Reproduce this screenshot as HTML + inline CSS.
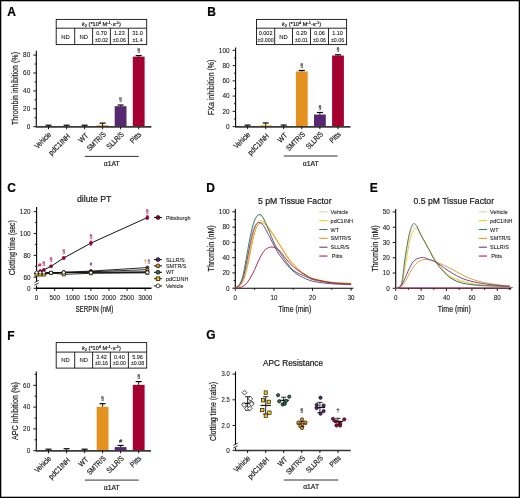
<!DOCTYPE html><html><head><meta charset="utf-8"><style>html,body{margin:0;padding:0;background:#fff;width:520px;height:498px;overflow:hidden}svg text{font-family:"Liberation Sans",sans-serif;stroke:currentColor;stroke-width:0.2px}</style></head><body><svg width="520" height="498" viewBox="0 0 520 498" style="display:block">
<rect x="0" y="0" width="520" height="498" fill="#fff"/>
<g style="will-change:transform">
<text x="7.3" y="15.6" font-size="12" fill="#000" color="#000" font-weight="bold">A</text>
<rect x="56.2" y="19.4" width="90.5" height="25.2" fill="none" stroke="#111" stroke-width="0.9"/>
<line x1="56.2" y1="28.2" x2="146.7" y2="28.2" stroke="#111" stroke-width="0.9"/>
<line x1="74.7" y1="28.2" x2="74.7" y2="44.6" stroke="#111" stroke-width="0.9"/>
<line x1="92.6" y1="28.2" x2="92.6" y2="44.6" stroke="#111" stroke-width="0.9"/>
<line x1="110.4" y1="28.2" x2="110.4" y2="44.6" stroke="#111" stroke-width="0.9"/>
<line x1="128.4" y1="28.2" x2="128.4" y2="44.6" stroke="#111" stroke-width="0.9"/>
<text x="101.45" y="26" font-size="5.6" fill="#1a1a1a" color="#1a1a1a" text-anchor="middle"><tspan font-style="italic">k</tspan><tspan font-size="4" dy="1">2</tspan><tspan dy="-1"> (*10</tspan><tspan font-size="4" dy="-2">4</tspan><tspan dy="2"> M</tspan><tspan font-size="4" dy="-2">-1</tspan><tspan dy="2">·s</tspan><tspan font-size="4" dy="-2">-1</tspan><tspan dy="2">)</tspan></text>
<text x="65.45" y="38.5" font-size="5.9" fill="#1a1a1a" color="#1a1a1a" text-anchor="middle" style="stroke-width:0.1px">ND</text>
<text x="83.65" y="38.5" font-size="5.9" fill="#1a1a1a" color="#1a1a1a" text-anchor="middle" style="stroke-width:0.1px">ND</text>
<text x="101.5" y="35" font-size="5.6" fill="#1a1a1a" color="#1a1a1a" text-anchor="middle" textLength="10.68" lengthAdjust="spacingAndGlyphs" style="stroke-width:0.1px">0.70</text>
<text x="101.5" y="41.5" font-size="5.6" fill="#1a1a1a" color="#1a1a1a" text-anchor="middle" textLength="13.13" lengthAdjust="spacingAndGlyphs" style="stroke-width:0.1px">±0.02</text>
<text x="119.4" y="35" font-size="5.6" fill="#1a1a1a" color="#1a1a1a" text-anchor="middle" textLength="10.68" lengthAdjust="spacingAndGlyphs" style="stroke-width:0.1px">1.23</text>
<text x="119.4" y="41.5" font-size="5.6" fill="#1a1a1a" color="#1a1a1a" text-anchor="middle" textLength="13.13" lengthAdjust="spacingAndGlyphs" style="stroke-width:0.1px">±0.06</text>
<text x="137.55" y="35" font-size="5.6" fill="#1a1a1a" color="#1a1a1a" text-anchor="middle" textLength="10.68" lengthAdjust="spacingAndGlyphs" style="stroke-width:0.1px">31.0</text>
<text x="137.55" y="41.5" font-size="5.6" fill="#1a1a1a" color="#1a1a1a" text-anchor="middle" textLength="10.21" lengthAdjust="spacingAndGlyphs" style="stroke-width:0.1px">±1.4</text>
<line x1="36.3" y1="50.7" x2="36.3" y2="127.3" stroke="#000" stroke-width="1.1"/>
<line x1="33.3" y1="126.7" x2="36.3" y2="126.7" stroke="#000" stroke-width="0.9"/>
<text x="30.2" y="129" font-size="6.4" fill="#1a1a1a" color="#1a1a1a" text-anchor="end" style="stroke-width:0.1px">0</text>
<line x1="33.3" y1="108.8" x2="36.3" y2="108.8" stroke="#000" stroke-width="0.9"/>
<text x="30.2" y="111.1" font-size="6.4" fill="#1a1a1a" color="#1a1a1a" text-anchor="end" style="stroke-width:0.1px">20</text>
<line x1="33.3" y1="90.9" x2="36.3" y2="90.9" stroke="#000" stroke-width="0.9"/>
<text x="30.2" y="93.2" font-size="6.4" fill="#1a1a1a" color="#1a1a1a" text-anchor="end" style="stroke-width:0.1px">40</text>
<line x1="33.3" y1="73" x2="36.3" y2="73" stroke="#000" stroke-width="0.9"/>
<text x="30.2" y="75.3" font-size="6.4" fill="#1a1a1a" color="#1a1a1a" text-anchor="end" style="stroke-width:0.1px">60</text>
<line x1="33.3" y1="55.1" x2="36.3" y2="55.1" stroke="#000" stroke-width="0.9"/>
<text x="30.2" y="57.4" font-size="6.4" fill="#1a1a1a" color="#1a1a1a" text-anchor="end" style="stroke-width:0.1px">80</text>
<line x1="34.6" y1="117.75" x2="36.3" y2="117.75" stroke="#000" stroke-width="0.9"/>
<line x1="34.6" y1="99.85" x2="36.3" y2="99.85" stroke="#000" stroke-width="0.9"/>
<line x1="34.6" y1="81.95" x2="36.3" y2="81.95" stroke="#000" stroke-width="0.9"/>
<line x1="34.6" y1="64.05" x2="36.3" y2="64.05" stroke="#000" stroke-width="0.9"/>
<line x1="48.5" y1="125.2" x2="48.5" y2="126.7" stroke="#000" stroke-width="0.9"/>
<line x1="45.5" y1="125.2" x2="51.5" y2="125.2" stroke="#000" stroke-width="1.2"/>
<line x1="66.6" y1="125.2" x2="66.6" y2="126.7" stroke="#000" stroke-width="0.9"/>
<line x1="63.6" y1="125.2" x2="69.6" y2="125.2" stroke="#000" stroke-width="1.2"/>
<line x1="84.6" y1="125.2" x2="84.6" y2="126.7" stroke="#000" stroke-width="0.9"/>
<line x1="81.6" y1="125.2" x2="87.6" y2="125.2" stroke="#000" stroke-width="1.2"/>
<rect x="96.7" y="125.3" width="11.8" height="1.4" fill="#e3921f"/>
<line x1="102.6" y1="123.12" x2="102.6" y2="126.34" stroke="#000" stroke-width="0.9"/>
<line x1="99.6" y1="123.12" x2="105.6" y2="123.12" stroke="#000" stroke-width="1.2"/>
<rect x="114.7" y="106.2" width="11.8" height="20.5" fill="#55286f"/>
<line x1="120.6" y1="105.04" x2="120.6" y2="106.2" stroke="#000" stroke-width="0.9"/>
<line x1="117.6" y1="105.04" x2="123.6" y2="105.04" stroke="#000" stroke-width="1.2"/>
<text x="120.6" y="101.24" font-size="7" fill="#1a1a1a" color="#1a1a1a" text-anchor="middle" style="font-family:'Liberation Serif',serif;stroke-width:0.12px">§</text>
<rect x="132.8" y="56.62" width="11.8" height="70.08" fill="#a50032"/>
<line x1="138.7" y1="55.55" x2="138.7" y2="56.62" stroke="#000" stroke-width="0.9"/>
<line x1="135.7" y1="55.55" x2="141.7" y2="55.55" stroke="#000" stroke-width="1.2"/>
<text x="138.7" y="51.75" font-size="7" fill="#1a1a1a" color="#1a1a1a" text-anchor="middle" style="font-family:'Liberation Serif',serif;stroke-width:0.12px">§</text>
<line x1="35.8" y1="126.85" x2="151.4" y2="126.85" stroke="#3a3a3a" stroke-width="1.75"/>
<line x1="48.5" y1="126.7" x2="48.5" y2="129.3" stroke="#000" stroke-width="0.9"/>
<line x1="66.6" y1="126.7" x2="66.6" y2="129.3" stroke="#000" stroke-width="0.9"/>
<line x1="84.6" y1="126.7" x2="84.6" y2="129.3" stroke="#000" stroke-width="0.9"/>
<line x1="102.6" y1="126.7" x2="102.6" y2="129.3" stroke="#000" stroke-width="0.9"/>
<line x1="120.6" y1="126.7" x2="120.6" y2="129.3" stroke="#000" stroke-width="0.9"/>
<line x1="138.7" y1="126.7" x2="138.7" y2="129.3" stroke="#000" stroke-width="0.9"/>
<text x="51.7" y="135.1" font-size="7.6" fill="#1a1a1a" color="#1a1a1a" text-anchor="end" transform="rotate(-45 51.7 135.1)" textLength="19.85" lengthAdjust="spacingAndGlyphs">Vehicle</text>
<text x="70.6" y="136.8" font-size="7.6" fill="#1a1a1a" color="#1a1a1a" text-anchor="end" transform="rotate(-45 70.6 136.8)" textLength="26.88" lengthAdjust="spacingAndGlyphs">pdC1INH</text>
<text x="88.8" y="136.1" font-size="7.6" fill="#1a1a1a" color="#1a1a1a" text-anchor="end" transform="rotate(-45 88.8 136.1)" textLength="10.16" lengthAdjust="spacingAndGlyphs">WT</text>
<text x="106.4" y="134.9" font-size="7.6" fill="#1a1a1a" color="#1a1a1a" text-anchor="end" transform="rotate(-45 106.4 134.9)" textLength="23.26" lengthAdjust="spacingAndGlyphs">SMTR/S</text>
<text x="124.4" y="134.8" font-size="7.6" fill="#1a1a1a" color="#1a1a1a" text-anchor="end" transform="rotate(-45 124.4 134.8)" textLength="20.95" lengthAdjust="spacingAndGlyphs">SLLR/S</text>
<text x="141.9" y="134.9" font-size="7.6" fill="#1a1a1a" color="#1a1a1a" text-anchor="end" transform="rotate(-45 141.9 134.9)" textLength="12.42" lengthAdjust="spacingAndGlyphs">Pitts</text>
<line x1="84.8" y1="156.4" x2="138.8" y2="156.4" stroke="#333" stroke-width="1"/>
<text x="111.8" y="165.6" font-size="7.4" fill="#1a1a1a" color="#1a1a1a" text-anchor="middle" textLength="15.92" lengthAdjust="spacingAndGlyphs">α1AT</text>
<text x="18" y="88.5" font-size="9" fill="#1a1a1a" color="#1a1a1a" text-anchor="middle" transform="rotate(-90 18 88.5)" textLength="73" lengthAdjust="spacingAndGlyphs">Thrombin inhibition (%)</text>
<text x="207.3" y="15.6" font-size="12" fill="#000" color="#000" font-weight="bold">B</text>
<rect x="256.5" y="19.4" width="90.1" height="25.2" fill="none" stroke="#111" stroke-width="0.9"/>
<line x1="256.5" y1="28.2" x2="346.6" y2="28.2" stroke="#111" stroke-width="0.9"/>
<line x1="274.7" y1="28.2" x2="274.7" y2="44.6" stroke="#111" stroke-width="0.9"/>
<line x1="292.5" y1="28.2" x2="292.5" y2="44.6" stroke="#111" stroke-width="0.9"/>
<line x1="310.5" y1="28.2" x2="310.5" y2="44.6" stroke="#111" stroke-width="0.9"/>
<line x1="328.5" y1="28.2" x2="328.5" y2="44.6" stroke="#111" stroke-width="0.9"/>
<text x="301.55" y="26" font-size="5.6" fill="#1a1a1a" color="#1a1a1a" text-anchor="middle"><tspan font-style="italic">k</tspan><tspan font-size="4" dy="1">2</tspan><tspan dy="-1"> (*10</tspan><tspan font-size="4" dy="-2">4</tspan><tspan dy="2"> M</tspan><tspan font-size="4" dy="-2">-1</tspan><tspan dy="2">·s</tspan><tspan font-size="4" dy="-2">-1</tspan><tspan dy="2">)</tspan></text>
<text x="265.6" y="35" font-size="5.6" fill="#1a1a1a" color="#1a1a1a" text-anchor="middle" textLength="13.73" lengthAdjust="spacingAndGlyphs" style="stroke-width:0.1px">0.002</text>
<text x="265.6" y="41.5" font-size="5.6" fill="#1a1a1a" color="#1a1a1a" text-anchor="middle" textLength="16.06" lengthAdjust="spacingAndGlyphs" style="stroke-width:0.1px">±0.000</text>
<text x="283.6" y="38.5" font-size="5.9" fill="#1a1a1a" color="#1a1a1a" text-anchor="middle" style="stroke-width:0.1px">ND</text>
<text x="301.5" y="35" font-size="5.6" fill="#1a1a1a" color="#1a1a1a" text-anchor="middle" textLength="10.68" lengthAdjust="spacingAndGlyphs" style="stroke-width:0.1px">0.29</text>
<text x="301.5" y="41.5" font-size="5.6" fill="#1a1a1a" color="#1a1a1a" text-anchor="middle" textLength="13.13" lengthAdjust="spacingAndGlyphs" style="stroke-width:0.1px">±0.01</text>
<text x="319.5" y="35" font-size="5.6" fill="#1a1a1a" color="#1a1a1a" text-anchor="middle" textLength="10.68" lengthAdjust="spacingAndGlyphs" style="stroke-width:0.1px">0.06</text>
<text x="319.5" y="41.5" font-size="5.6" fill="#1a1a1a" color="#1a1a1a" text-anchor="middle" textLength="13.13" lengthAdjust="spacingAndGlyphs" style="stroke-width:0.1px">±0.06</text>
<text x="337.55" y="35" font-size="5.6" fill="#1a1a1a" color="#1a1a1a" text-anchor="middle" textLength="10.68" lengthAdjust="spacingAndGlyphs" style="stroke-width:0.1px">1.10</text>
<text x="337.55" y="41.5" font-size="5.6" fill="#1a1a1a" color="#1a1a1a" text-anchor="middle" textLength="13.13" lengthAdjust="spacingAndGlyphs" style="stroke-width:0.1px">±0.06</text>
<line x1="235.6" y1="47.6" x2="235.6" y2="127.2" stroke="#000" stroke-width="1.1"/>
<line x1="232.6" y1="126.6" x2="235.6" y2="126.6" stroke="#000" stroke-width="0.9"/>
<text x="229.5" y="128.9" font-size="6.4" fill="#1a1a1a" color="#1a1a1a" text-anchor="end" style="stroke-width:0.1px">0</text>
<line x1="232.6" y1="111.35" x2="235.6" y2="111.35" stroke="#000" stroke-width="0.9"/>
<text x="229.5" y="113.65" font-size="6.4" fill="#1a1a1a" color="#1a1a1a" text-anchor="end" style="stroke-width:0.1px">20</text>
<line x1="232.6" y1="96.1" x2="235.6" y2="96.1" stroke="#000" stroke-width="0.9"/>
<text x="229.5" y="98.4" font-size="6.4" fill="#1a1a1a" color="#1a1a1a" text-anchor="end" style="stroke-width:0.1px">40</text>
<line x1="232.6" y1="80.85" x2="235.6" y2="80.85" stroke="#000" stroke-width="0.9"/>
<text x="229.5" y="83.15" font-size="6.4" fill="#1a1a1a" color="#1a1a1a" text-anchor="end" style="stroke-width:0.1px">60</text>
<line x1="232.6" y1="65.6" x2="235.6" y2="65.6" stroke="#000" stroke-width="0.9"/>
<text x="229.5" y="67.9" font-size="6.4" fill="#1a1a1a" color="#1a1a1a" text-anchor="end" style="stroke-width:0.1px">80</text>
<line x1="232.6" y1="50.35" x2="235.6" y2="50.35" stroke="#000" stroke-width="0.9"/>
<text x="229.5" y="52.65" font-size="6.4" fill="#1a1a1a" color="#1a1a1a" text-anchor="end" style="stroke-width:0.1px">100</text>
<line x1="233.9" y1="118.97" x2="235.6" y2="118.97" stroke="#000" stroke-width="0.9"/>
<line x1="233.9" y1="103.72" x2="235.6" y2="103.72" stroke="#000" stroke-width="0.9"/>
<line x1="233.9" y1="88.47" x2="235.6" y2="88.47" stroke="#000" stroke-width="0.9"/>
<line x1="233.9" y1="73.22" x2="235.6" y2="73.22" stroke="#000" stroke-width="0.9"/>
<line x1="233.9" y1="57.97" x2="235.6" y2="57.97" stroke="#000" stroke-width="0.9"/>
<line x1="247.6" y1="125.1" x2="247.6" y2="126.6" stroke="#000" stroke-width="0.9"/>
<line x1="244.6" y1="125.1" x2="250.6" y2="125.1" stroke="#000" stroke-width="1.2"/>
<rect x="259.8" y="125.2" width="11.8" height="1.4" fill="#f5c518"/>
<line x1="265.7" y1="122.94" x2="265.7" y2="125.68" stroke="#000" stroke-width="0.9"/>
<line x1="262.7" y1="122.94" x2="268.7" y2="122.94" stroke="#000" stroke-width="1.2"/>
<line x1="283.7" y1="125.07" x2="283.7" y2="126.6" stroke="#000" stroke-width="0.9"/>
<line x1="280.7" y1="125.07" x2="286.7" y2="125.07" stroke="#000" stroke-width="1.2"/>
<rect x="295.9" y="71.47" width="11.8" height="55.13" fill="#e3921f"/>
<line x1="301.8" y1="70.48" x2="301.8" y2="71.47" stroke="#000" stroke-width="0.9"/>
<line x1="298.8" y1="70.48" x2="304.8" y2="70.48" stroke="#000" stroke-width="1.2"/>
<text x="301.8" y="66.68" font-size="7" fill="#1a1a1a" color="#1a1a1a" text-anchor="middle" style="font-family:'Liberation Serif',serif;stroke-width:0.12px">§</text>
<rect x="314" y="114.55" width="11.8" height="12.05" fill="#55286f"/>
<line x1="319.9" y1="112.49" x2="319.9" y2="114.55" stroke="#000" stroke-width="0.9"/>
<line x1="316.9" y1="112.49" x2="322.9" y2="112.49" stroke="#000" stroke-width="1.2"/>
<text x="319.9" y="108.69" font-size="7" fill="#1a1a1a" color="#1a1a1a" text-anchor="middle" style="font-family:'Liberation Serif',serif;stroke-width:0.12px">§</text>
<rect x="332.1" y="55.53" width="11.8" height="71.06" fill="#a50032"/>
<line x1="338" y1="54.77" x2="338" y2="55.53" stroke="#000" stroke-width="0.9"/>
<line x1="335" y1="54.77" x2="341" y2="54.77" stroke="#000" stroke-width="1.2"/>
<text x="338" y="50.97" font-size="7" fill="#1a1a1a" color="#1a1a1a" text-anchor="middle" style="font-family:'Liberation Serif',serif;stroke-width:0.12px">§</text>
<line x1="235.1" y1="126.75" x2="350.5" y2="126.75" stroke="#3a3a3a" stroke-width="1.75"/>
<line x1="247.6" y1="126.6" x2="247.6" y2="129.2" stroke="#000" stroke-width="0.9"/>
<line x1="265.7" y1="126.6" x2="265.7" y2="129.2" stroke="#000" stroke-width="0.9"/>
<line x1="283.7" y1="126.6" x2="283.7" y2="129.2" stroke="#000" stroke-width="0.9"/>
<line x1="301.8" y1="126.6" x2="301.8" y2="129.2" stroke="#000" stroke-width="0.9"/>
<line x1="319.9" y1="126.6" x2="319.9" y2="129.2" stroke="#000" stroke-width="0.9"/>
<line x1="338" y1="126.6" x2="338" y2="129.2" stroke="#000" stroke-width="0.9"/>
<text x="250.8" y="135" font-size="7.6" fill="#1a1a1a" color="#1a1a1a" text-anchor="end" transform="rotate(-45 250.8 135)" textLength="19.85" lengthAdjust="spacingAndGlyphs">Vehicle</text>
<text x="269.7" y="136.7" font-size="7.6" fill="#1a1a1a" color="#1a1a1a" text-anchor="end" transform="rotate(-45 269.7 136.7)" textLength="26.88" lengthAdjust="spacingAndGlyphs">pdC1INH</text>
<text x="287.9" y="136" font-size="7.6" fill="#1a1a1a" color="#1a1a1a" text-anchor="end" transform="rotate(-45 287.9 136)" textLength="10.16" lengthAdjust="spacingAndGlyphs">WT</text>
<text x="305.6" y="134.8" font-size="7.6" fill="#1a1a1a" color="#1a1a1a" text-anchor="end" transform="rotate(-45 305.6 134.8)" textLength="23.26" lengthAdjust="spacingAndGlyphs">SMTR/S</text>
<text x="323.7" y="134.7" font-size="7.6" fill="#1a1a1a" color="#1a1a1a" text-anchor="end" transform="rotate(-45 323.7 134.7)" textLength="20.95" lengthAdjust="spacingAndGlyphs">SLLR/S</text>
<text x="341.2" y="134.8" font-size="7.6" fill="#1a1a1a" color="#1a1a1a" text-anchor="end" transform="rotate(-45 341.2 134.8)" textLength="12.42" lengthAdjust="spacingAndGlyphs">Pitts</text>
<line x1="283.8" y1="156" x2="337.6" y2="156" stroke="#333" stroke-width="1"/>
<text x="310.7" y="165.6" font-size="7.4" fill="#1a1a1a" color="#1a1a1a" text-anchor="middle" textLength="15.92" lengthAdjust="spacingAndGlyphs">α1AT</text>
<text x="214" y="87.3" font-size="9" fill="#1a1a1a" color="#1a1a1a" text-anchor="middle" transform="rotate(-90 214 87.3)" textLength="55.5" lengthAdjust="spacingAndGlyphs">FXa inhibition (%)</text>
<text x="7.3" y="339.6" font-size="12" fill="#000" color="#000" font-weight="bold">F</text>
<rect x="56.2" y="342.6" width="90.5" height="25.5" fill="none" stroke="#111" stroke-width="0.9"/>
<line x1="56.2" y1="352.1" x2="146.7" y2="352.1" stroke="#111" stroke-width="0.9"/>
<line x1="74.7" y1="352.1" x2="74.7" y2="368.1" stroke="#111" stroke-width="0.9"/>
<line x1="92.6" y1="352.1" x2="92.6" y2="368.1" stroke="#111" stroke-width="0.9"/>
<line x1="110.4" y1="352.1" x2="110.4" y2="368.1" stroke="#111" stroke-width="0.9"/>
<line x1="128.4" y1="352.1" x2="128.4" y2="368.1" stroke="#111" stroke-width="0.9"/>
<text x="101.45" y="349.9" font-size="5.6" fill="#1a1a1a" color="#1a1a1a" text-anchor="middle"><tspan font-style="italic">k</tspan><tspan font-size="4" dy="1">2</tspan><tspan dy="-1"> (*10</tspan><tspan font-size="4" dy="-2">4</tspan><tspan dy="2"> M</tspan><tspan font-size="4" dy="-2">-1</tspan><tspan dy="2">·s</tspan><tspan font-size="4" dy="-2">-1</tspan><tspan dy="2">)</tspan></text>
<text x="65.45" y="362.2" font-size="5.9" fill="#1a1a1a" color="#1a1a1a" text-anchor="middle" style="stroke-width:0.1px">ND</text>
<text x="83.65" y="362.2" font-size="5.9" fill="#1a1a1a" color="#1a1a1a" text-anchor="middle" style="stroke-width:0.1px">ND</text>
<text x="101.5" y="358.9" font-size="5.6" fill="#1a1a1a" color="#1a1a1a" text-anchor="middle" textLength="10.68" lengthAdjust="spacingAndGlyphs" style="stroke-width:0.1px">3.42</text>
<text x="101.5" y="365.4" font-size="5.6" fill="#1a1a1a" color="#1a1a1a" text-anchor="middle" textLength="13.13" lengthAdjust="spacingAndGlyphs" style="stroke-width:0.1px">±0.16</text>
<text x="119.4" y="358.9" font-size="5.6" fill="#1a1a1a" color="#1a1a1a" text-anchor="middle" textLength="10.68" lengthAdjust="spacingAndGlyphs" style="stroke-width:0.1px">0.40</text>
<text x="119.4" y="365.4" font-size="5.6" fill="#1a1a1a" color="#1a1a1a" text-anchor="middle" textLength="13.13" lengthAdjust="spacingAndGlyphs" style="stroke-width:0.1px">±0.00</text>
<text x="137.55" y="358.9" font-size="5.6" fill="#1a1a1a" color="#1a1a1a" text-anchor="middle" textLength="10.68" lengthAdjust="spacingAndGlyphs" style="stroke-width:0.1px">5.96</text>
<text x="137.55" y="365.4" font-size="5.6" fill="#1a1a1a" color="#1a1a1a" text-anchor="middle" textLength="13.13" lengthAdjust="spacingAndGlyphs" style="stroke-width:0.1px">±0.08</text>
<line x1="36.3" y1="371.5" x2="36.3" y2="451.3" stroke="#000" stroke-width="1.1"/>
<line x1="33.3" y1="450.7" x2="36.3" y2="450.7" stroke="#000" stroke-width="0.9"/>
<text x="30.2" y="453" font-size="6.4" fill="#1a1a1a" color="#1a1a1a" text-anchor="end" style="stroke-width:0.1px">0</text>
<line x1="33.3" y1="428.9" x2="36.3" y2="428.9" stroke="#000" stroke-width="0.9"/>
<text x="30.2" y="431.2" font-size="6.4" fill="#1a1a1a" color="#1a1a1a" text-anchor="end" style="stroke-width:0.1px">20</text>
<line x1="33.3" y1="407.1" x2="36.3" y2="407.1" stroke="#000" stroke-width="0.9"/>
<text x="30.2" y="409.4" font-size="6.4" fill="#1a1a1a" color="#1a1a1a" text-anchor="end" style="stroke-width:0.1px">40</text>
<line x1="33.3" y1="385.3" x2="36.3" y2="385.3" stroke="#000" stroke-width="0.9"/>
<text x="30.2" y="387.6" font-size="6.4" fill="#1a1a1a" color="#1a1a1a" text-anchor="end" style="stroke-width:0.1px">60</text>
<line x1="34.6" y1="439.8" x2="36.3" y2="439.8" stroke="#000" stroke-width="0.9"/>
<line x1="34.6" y1="418" x2="36.3" y2="418" stroke="#000" stroke-width="0.9"/>
<line x1="34.6" y1="396.2" x2="36.3" y2="396.2" stroke="#000" stroke-width="0.9"/>
<line x1="34.6" y1="374.4" x2="36.3" y2="374.4" stroke="#000" stroke-width="0.9"/>
<line x1="48.5" y1="449.2" x2="48.5" y2="450.7" stroke="#000" stroke-width="0.9"/>
<line x1="45.5" y1="449.2" x2="51.5" y2="449.2" stroke="#000" stroke-width="1.2"/>
<line x1="66.6" y1="448.74" x2="66.6" y2="450.7" stroke="#000" stroke-width="0.9"/>
<line x1="63.6" y1="448.74" x2="69.6" y2="448.74" stroke="#000" stroke-width="1.2"/>
<line x1="84.6" y1="449.2" x2="84.6" y2="450.7" stroke="#000" stroke-width="0.9"/>
<line x1="81.6" y1="449.2" x2="87.6" y2="449.2" stroke="#000" stroke-width="1.2"/>
<rect x="96.7" y="406.77" width="11.8" height="43.93" fill="#e3921f"/>
<line x1="102.6" y1="403.72" x2="102.6" y2="406.77" stroke="#000" stroke-width="0.9"/>
<line x1="99.6" y1="403.72" x2="105.6" y2="403.72" stroke="#000" stroke-width="1.2"/>
<text x="102.6" y="399.92" font-size="7" fill="#1a1a1a" color="#1a1a1a" text-anchor="middle" style="font-family:'Liberation Serif',serif;stroke-width:0.12px">§</text>
<rect x="114.7" y="447.1" width="11.8" height="3.6" fill="#55286f"/>
<line x1="120.6" y1="445.47" x2="120.6" y2="447.1" stroke="#000" stroke-width="0.9"/>
<line x1="117.6" y1="445.47" x2="123.6" y2="445.47" stroke="#000" stroke-width="1.2"/>
<text x="120.6" y="442.87" font-size="5.6" fill="#1a1a1a" color="#1a1a1a" text-anchor="middle" font-style="italic" style="stroke-width:0.1px">#</text>
<rect x="132.8" y="384.86" width="11.8" height="65.84" fill="#a50032"/>
<line x1="138.7" y1="381.59" x2="138.7" y2="384.86" stroke="#000" stroke-width="0.9"/>
<line x1="135.7" y1="381.59" x2="141.7" y2="381.59" stroke="#000" stroke-width="1.2"/>
<text x="138.7" y="377.79" font-size="7" fill="#1a1a1a" color="#1a1a1a" text-anchor="middle" style="font-family:'Liberation Serif',serif;stroke-width:0.12px">§</text>
<line x1="35.8" y1="450.85" x2="151" y2="450.85" stroke="#3a3a3a" stroke-width="1.75"/>
<line x1="48.5" y1="450.7" x2="48.5" y2="453.3" stroke="#000" stroke-width="0.9"/>
<line x1="66.6" y1="450.7" x2="66.6" y2="453.3" stroke="#000" stroke-width="0.9"/>
<line x1="84.6" y1="450.7" x2="84.6" y2="453.3" stroke="#000" stroke-width="0.9"/>
<line x1="102.6" y1="450.7" x2="102.6" y2="453.3" stroke="#000" stroke-width="0.9"/>
<line x1="120.6" y1="450.7" x2="120.6" y2="453.3" stroke="#000" stroke-width="0.9"/>
<line x1="138.7" y1="450.7" x2="138.7" y2="453.3" stroke="#000" stroke-width="0.9"/>
<text x="51.7" y="459.1" font-size="7.6" fill="#1a1a1a" color="#1a1a1a" text-anchor="end" transform="rotate(-45 51.7 459.1)" textLength="19.85" lengthAdjust="spacingAndGlyphs">Vehicle</text>
<text x="70.6" y="460.8" font-size="7.6" fill="#1a1a1a" color="#1a1a1a" text-anchor="end" transform="rotate(-45 70.6 460.8)" textLength="26.88" lengthAdjust="spacingAndGlyphs">pdC1INH</text>
<text x="88.8" y="460.1" font-size="7.6" fill="#1a1a1a" color="#1a1a1a" text-anchor="end" transform="rotate(-45 88.8 460.1)" textLength="10.16" lengthAdjust="spacingAndGlyphs">WT</text>
<text x="106.4" y="458.9" font-size="7.6" fill="#1a1a1a" color="#1a1a1a" text-anchor="end" transform="rotate(-45 106.4 458.9)" textLength="23.26" lengthAdjust="spacingAndGlyphs">SMTR/S</text>
<text x="124.4" y="458.8" font-size="7.6" fill="#1a1a1a" color="#1a1a1a" text-anchor="end" transform="rotate(-45 124.4 458.8)" textLength="20.95" lengthAdjust="spacingAndGlyphs">SLLR/S</text>
<text x="141.9" y="458.9" font-size="7.6" fill="#1a1a1a" color="#1a1a1a" text-anchor="end" transform="rotate(-45 141.9 458.9)" textLength="12.42" lengthAdjust="spacingAndGlyphs">Pitts</text>
<line x1="84.8" y1="480.1" x2="138.8" y2="480.1" stroke="#333" stroke-width="1"/>
<text x="111.8" y="490" font-size="7.4" fill="#1a1a1a" color="#1a1a1a" text-anchor="middle" textLength="15.92" lengthAdjust="spacingAndGlyphs">α1AT</text>
<text x="18" y="411" font-size="9" fill="#1a1a1a" color="#1a1a1a" text-anchor="middle" transform="rotate(-90 18 411)" textLength="58" lengthAdjust="spacingAndGlyphs">APC inhibition (%)</text>
<text x="7.3" y="191.9" font-size="12" fill="#000" color="#000" font-weight="bold">C</text>
<text x="94.2" y="202.3" font-size="9" fill="#161616" color="#161616" text-anchor="middle" textLength="34.5" lengthAdjust="spacingAndGlyphs">dilute PT</text>
<line x1="36.6" y1="207" x2="36.6" y2="281.5" stroke="#000" stroke-width="1.1"/>
<line x1="36.6" y1="285.5" x2="36.6" y2="288.9" stroke="#000" stroke-width="1.1"/>
<line x1="34.4" y1="282.6" x2="38.8" y2="280.4" stroke="#000" stroke-width="0.8"/>
<line x1="34.4" y1="285.2" x2="38.8" y2="283" stroke="#000" stroke-width="0.8"/>
<line x1="33.6" y1="277.2" x2="36.6" y2="277.2" stroke="#000" stroke-width="0.9"/>
<text x="30.5" y="279.5" font-size="6.4" fill="#1a1a1a" color="#1a1a1a" text-anchor="end" style="stroke-width:0.1px">60</text>
<line x1="33.6" y1="255.35" x2="36.6" y2="255.35" stroke="#000" stroke-width="0.9"/>
<text x="30.5" y="257.65" font-size="6.4" fill="#1a1a1a" color="#1a1a1a" text-anchor="end" style="stroke-width:0.1px">80</text>
<line x1="33.6" y1="233.5" x2="36.6" y2="233.5" stroke="#000" stroke-width="0.9"/>
<text x="30.5" y="235.8" font-size="6.4" fill="#1a1a1a" color="#1a1a1a" text-anchor="end" style="stroke-width:0.1px">100</text>
<line x1="33.6" y1="211.65" x2="36.6" y2="211.65" stroke="#000" stroke-width="0.9"/>
<text x="30.5" y="213.95" font-size="6.4" fill="#1a1a1a" color="#1a1a1a" text-anchor="end" style="stroke-width:0.1px">120</text>
<line x1="34.9" y1="266.27" x2="36.6" y2="266.27" stroke="#000" stroke-width="0.9"/>
<line x1="34.9" y1="244.42" x2="36.6" y2="244.42" stroke="#000" stroke-width="0.9"/>
<line x1="34.9" y1="222.57" x2="36.6" y2="222.57" stroke="#000" stroke-width="0.9"/>
<line x1="33.6" y1="288.3" x2="36.6" y2="288.3" stroke="#000" stroke-width="0.9"/>
<text x="30.5" y="290.6" font-size="6.4" fill="#1a1a1a" color="#1a1a1a" text-anchor="end" style="stroke-width:0.1px">0</text>
<line x1="36.1" y1="288.3" x2="151.5" y2="288.3" stroke="#000" stroke-width="1.5"/>
<line x1="36.6" y1="288.3" x2="36.6" y2="290.9" stroke="#000" stroke-width="0.9"/>
<text x="36.6" y="300" font-size="6.8" fill="#1a1a1a" color="#1a1a1a" text-anchor="middle" textLength="3.52" lengthAdjust="spacingAndGlyphs" style="stroke-width:0.1px">0</text>
<line x1="54.7" y1="288.3" x2="54.7" y2="290.9" stroke="#000" stroke-width="0.9"/>
<text x="54.7" y="300" font-size="6.8" fill="#1a1a1a" color="#1a1a1a" text-anchor="middle" textLength="10.55" lengthAdjust="spacingAndGlyphs" style="stroke-width:0.1px">500</text>
<line x1="72.8" y1="288.3" x2="72.8" y2="290.9" stroke="#000" stroke-width="0.9"/>
<text x="72.8" y="300" font-size="6.8" fill="#1a1a1a" color="#1a1a1a" text-anchor="middle" textLength="14.07" lengthAdjust="spacingAndGlyphs" style="stroke-width:0.1px">1000</text>
<line x1="90.9" y1="288.3" x2="90.9" y2="290.9" stroke="#000" stroke-width="0.9"/>
<text x="90.9" y="300" font-size="6.8" fill="#1a1a1a" color="#1a1a1a" text-anchor="middle" textLength="14.07" lengthAdjust="spacingAndGlyphs" style="stroke-width:0.1px">1500</text>
<line x1="109" y1="288.3" x2="109" y2="290.9" stroke="#000" stroke-width="0.9"/>
<text x="109" y="300" font-size="6.8" fill="#1a1a1a" color="#1a1a1a" text-anchor="middle" textLength="14.07" lengthAdjust="spacingAndGlyphs" style="stroke-width:0.1px">2000</text>
<line x1="127.1" y1="288.3" x2="127.1" y2="290.9" stroke="#000" stroke-width="0.9"/>
<text x="127.1" y="300" font-size="6.8" fill="#1a1a1a" color="#1a1a1a" text-anchor="middle" textLength="14.07" lengthAdjust="spacingAndGlyphs" style="stroke-width:0.1px">2500</text>
<line x1="145.2" y1="288.3" x2="145.2" y2="290.9" stroke="#000" stroke-width="0.9"/>
<text x="145.2" y="300" font-size="6.8" fill="#1a1a1a" color="#1a1a1a" text-anchor="middle" textLength="14.07" lengthAdjust="spacingAndGlyphs" style="stroke-width:0.1px">3000</text>
<text x="94.4" y="311.6" font-size="8.2" fill="#1e1e1e" color="#1e1e1e" text-anchor="middle" textLength="38" lengthAdjust="spacingAndGlyphs">SERPIN (nM)</text>
<text x="15" y="247.7" font-size="8.6" fill="#1a1a1a" color="#1a1a1a" text-anchor="middle" transform="rotate(-90 15 247.7)" textLength="55" lengthAdjust="spacingAndGlyphs">Clotting time (sec)</text>
<path d="M36.6,272.5 L40.22,272.5 L43.84,272.5 L51.08,272.83 L63.75,272.39 L90.9,272.72 L147.37,272.39" stroke="#111" stroke-width="0.9" fill="none"/>
<path d="M36.6,274.47 L40.22,274.47 L43.84,274.47 L51.08,272.83 L63.75,274.36 L90.9,273.27 L147.37,272.83" stroke="#111" stroke-width="0.9" fill="none"/>
<path d="M36.6,273.27 L40.22,273.05 L43.84,273.05 L51.08,272.94 L63.75,272.28 L90.9,272.28 L147.37,271.74" stroke="#111" stroke-width="0.9" fill="none"/>
<path d="M36.6,273.49 L40.22,273.38 L43.84,273.16 L51.08,273.05 L63.75,272.83 L90.9,271.74 L147.37,269.66" stroke="#111" stroke-width="0.9" fill="none"/>
<path d="M36.6,273.27 L40.22,273.05 L43.84,272.94 L51.08,272.83 L63.75,272.28 L90.9,271.08 L147.37,267.59" stroke="#111" stroke-width="0.9" fill="none"/>
<path d="M36.6,273.38 L40.22,271.08 L43.84,269.88 L51.08,266.27 L63.75,257.97 L90.9,243.11 L147.37,217.55" stroke="#111" stroke-width="1" fill="none"/>
<line x1="63.75" y1="257.1" x2="63.75" y2="258.84" stroke="#a50032" stroke-width="0.8"/>
<line x1="62.55" y1="257.1" x2="64.95" y2="257.1" stroke="#a50032" stroke-width="0.8"/>
<line x1="62.55" y1="258.84" x2="64.95" y2="258.84" stroke="#a50032" stroke-width="0.8"/>
<line x1="90.9" y1="241.15" x2="90.9" y2="245.08" stroke="#a50032" stroke-width="0.8"/>
<line x1="89.7" y1="241.15" x2="92.1" y2="241.15" stroke="#a50032" stroke-width="0.8"/>
<line x1="89.7" y1="245.08" x2="92.1" y2="245.08" stroke="#a50032" stroke-width="0.8"/>
<line x1="147.37" y1="215.81" x2="147.37" y2="219.29" stroke="#a50032" stroke-width="0.8"/>
<line x1="146.17" y1="215.81" x2="148.57" y2="215.81" stroke="#a50032" stroke-width="0.8"/>
<line x1="146.17" y1="219.29" x2="148.57" y2="219.29" stroke="#a50032" stroke-width="0.8"/>
<circle cx="36.6" cy="273.38" r="1.6" fill="#a50032" stroke="#6d0020" stroke-width="0.5"/>
<circle cx="40.22" cy="271.08" r="1.6" fill="#a50032" stroke="#6d0020" stroke-width="0.5"/>
<circle cx="43.84" cy="269.88" r="1.6" fill="#a50032" stroke="#6d0020" stroke-width="0.5"/>
<circle cx="51.08" cy="266.27" r="1.6" fill="#a50032" stroke="#6d0020" stroke-width="0.5"/>
<circle cx="63.75" cy="257.97" r="1.6" fill="#a50032" stroke="#6d0020" stroke-width="0.5"/>
<circle cx="90.9" cy="243.11" r="1.6" fill="#a50032" stroke="#6d0020" stroke-width="0.5"/>
<circle cx="147.37" cy="217.55" r="1.6" fill="#a50032" stroke="#6d0020" stroke-width="0.5"/>
<circle cx="36.6" cy="273.27" r="1.6" fill="#55286f" stroke="#000" stroke-width="0.6"/>
<circle cx="40.22" cy="273.05" r="1.6" fill="#55286f" stroke="#000" stroke-width="0.6"/>
<circle cx="43.84" cy="272.94" r="1.6" fill="#55286f" stroke="#000" stroke-width="0.6"/>
<circle cx="51.08" cy="272.83" r="1.6" fill="#55286f" stroke="#000" stroke-width="0.6"/>
<circle cx="63.75" cy="272.28" r="1.6" fill="#55286f" stroke="#000" stroke-width="0.6"/>
<circle cx="90.9" cy="271.08" r="1.6" fill="#55286f" stroke="#000" stroke-width="0.6"/>
<circle cx="147.37" cy="267.59" r="1.6" fill="#55286f" stroke="#000" stroke-width="0.6"/>
<circle cx="36.6" cy="273.49" r="1.6" fill="#e3921f" stroke="#000" stroke-width="0.6"/>
<circle cx="40.22" cy="273.38" r="1.6" fill="#e3921f" stroke="#000" stroke-width="0.6"/>
<circle cx="43.84" cy="273.16" r="1.6" fill="#e3921f" stroke="#000" stroke-width="0.6"/>
<circle cx="51.08" cy="273.05" r="1.6" fill="#e3921f" stroke="#000" stroke-width="0.6"/>
<circle cx="63.75" cy="272.83" r="1.6" fill="#e3921f" stroke="#000" stroke-width="0.6"/>
<circle cx="90.9" cy="271.74" r="1.6" fill="#e3921f" stroke="#000" stroke-width="0.6"/>
<circle cx="147.37" cy="269.66" r="1.6" fill="#e3921f" stroke="#000" stroke-width="0.6"/>
<circle cx="36.6" cy="273.27" r="1.6" fill="#2f6e50" stroke="#000" stroke-width="0.6"/>
<circle cx="40.22" cy="273.05" r="1.6" fill="#2f6e50" stroke="#000" stroke-width="0.6"/>
<circle cx="43.84" cy="273.05" r="1.6" fill="#2f6e50" stroke="#000" stroke-width="0.6"/>
<circle cx="51.08" cy="272.94" r="1.6" fill="#2f6e50" stroke="#000" stroke-width="0.6"/>
<circle cx="63.75" cy="272.28" r="1.6" fill="#2f6e50" stroke="#000" stroke-width="0.6"/>
<circle cx="90.9" cy="272.28" r="1.6" fill="#2f6e50" stroke="#000" stroke-width="0.6"/>
<circle cx="147.37" cy="271.74" r="1.6" fill="#2f6e50" stroke="#000" stroke-width="0.6"/>
<rect x="35" y="272.87" width="3.2" height="3.2" fill="#f5c518" stroke="#000" stroke-width="0.6"/>
<rect x="38.62" y="272.87" width="3.2" height="3.2" fill="#f5c518" stroke="#000" stroke-width="0.6"/>
<rect x="42.24" y="272.87" width="3.2" height="3.2" fill="#f5c518" stroke="#000" stroke-width="0.6"/>
<rect x="49.48" y="271.23" width="3.2" height="3.2" fill="#f5c518" stroke="#000" stroke-width="0.6"/>
<rect x="62.15" y="272.76" width="3.2" height="3.2" fill="#f5c518" stroke="#000" stroke-width="0.6"/>
<rect x="89.3" y="271.67" width="3.2" height="3.2" fill="#f5c518" stroke="#000" stroke-width="0.6"/>
<rect x="145.77" y="271.23" width="3.2" height="3.2" fill="#f5c518" stroke="#000" stroke-width="0.6"/>
<circle cx="36.6" cy="272.5" r="1.6" fill="#fff" stroke="#000" stroke-width="0.6"/>
<circle cx="40.22" cy="272.5" r="1.6" fill="#fff" stroke="#000" stroke-width="0.6"/>
<circle cx="43.84" cy="272.5" r="1.6" fill="#fff" stroke="#000" stroke-width="0.6"/>
<circle cx="51.08" cy="272.83" r="1.6" fill="#fff" stroke="#000" stroke-width="0.6"/>
<circle cx="63.75" cy="272.39" r="1.6" fill="#fff" stroke="#000" stroke-width="0.6"/>
<circle cx="90.9" cy="272.72" r="1.6" fill="#fff" stroke="#000" stroke-width="0.6"/>
<circle cx="147.37" cy="272.39" r="1.6" fill="#fff" stroke="#000" stroke-width="0.6"/>
<text x="39.62" y="266.71" font-size="5.8" fill="#b3124a" color="#b3124a" text-anchor="middle" font-style="italic" style="stroke-width:0.1px">#</text>
<text x="43.84" y="265.48" font-size="7" fill="#b3124a" color="#b3124a" text-anchor="middle" style="font-family:'Liberation Serif',serif;stroke-width:0.12px">§</text>
<text x="51.08" y="261.33" font-size="7" fill="#b3124a" color="#b3124a" text-anchor="middle" style="font-family:'Liberation Serif',serif;stroke-width:0.12px">§</text>
<text x="63.75" y="253.14" font-size="7" fill="#b3124a" color="#b3124a" text-anchor="middle" style="font-family:'Liberation Serif',serif;stroke-width:0.12px">§</text>
<text x="90.9" y="237.95" font-size="7" fill="#b3124a" color="#b3124a" text-anchor="middle" style="font-family:'Liberation Serif',serif;stroke-width:0.12px">§</text>
<text x="147.37" y="212.71" font-size="7" fill="#b3124a" color="#b3124a" text-anchor="middle" style="font-family:'Liberation Serif',serif;stroke-width:0.12px">§</text>
<text x="90.9" y="265.62" font-size="5.2" fill="#6a3d8f" color="#6a3d8f" text-anchor="middle" textLength="2.31" lengthAdjust="spacingAndGlyphs" font-style="italic" style="stroke-width:0.1px">#</text>
<text x="145.17" y="262.67" font-size="6" fill="#e3921f" color="#e3921f" text-anchor="middle" style="font-family:'Liberation Serif',serif;stroke-width:0.12px">†</text>
<text x="148.77" y="262.67" font-size="6.4" fill="#6a3d8f" color="#6a3d8f" text-anchor="middle" style="font-family:'Liberation Serif',serif;stroke-width:0.12px">§</text>
<line x1="154" y1="217.5" x2="162" y2="217.5" stroke="#111" stroke-width="1"/>
<circle cx="158" cy="217.5" r="1.95" fill="#a50032" stroke="#000" stroke-width="0.7"/>
<text x="165.9" y="219.6" font-size="6.2" fill="#1a1a1a" color="#1a1a1a" textLength="24.57" lengthAdjust="spacingAndGlyphs" style="stroke-width:0.1px">Pittsburgh</text>
<line x1="154" y1="259.6" x2="162" y2="259.6" stroke="#111" stroke-width="1"/>
<circle cx="158" cy="259.6" r="1.95" fill="#55286f" stroke="#000" stroke-width="0.7"/>
<text x="165.9" y="261.7" font-size="6.2" fill="#1a1a1a" color="#1a1a1a" textLength="18.8" lengthAdjust="spacingAndGlyphs" style="stroke-width:0.1px">SLLR/S</text>
<line x1="154" y1="265.9" x2="162" y2="265.9" stroke="#111" stroke-width="1"/>
<circle cx="158" cy="265.9" r="1.95" fill="#e3921f" stroke="#000" stroke-width="0.7"/>
<text x="165.9" y="268" font-size="6.2" fill="#1a1a1a" color="#1a1a1a" textLength="20.61" lengthAdjust="spacingAndGlyphs" style="stroke-width:0.1px">SMTR/S</text>
<line x1="154" y1="272.3" x2="162" y2="272.3" stroke="#111" stroke-width="1"/>
<circle cx="158" cy="272.3" r="1.95" fill="#2f6e50" stroke="#000" stroke-width="0.7"/>
<text x="165.9" y="274.4" font-size="6.2" fill="#1a1a1a" color="#1a1a1a" textLength="8.48" lengthAdjust="spacingAndGlyphs" style="stroke-width:0.1px">WT</text>
<line x1="154" y1="278.7" x2="162" y2="278.7" stroke="#111" stroke-width="1"/>
<rect x="156.2" y="276.9" width="3.6" height="3.6" fill="#f5c518" stroke="#000" stroke-width="0.7"/>
<text x="165.9" y="280.8" font-size="6.2" fill="#1a1a1a" color="#1a1a1a" textLength="22.44" lengthAdjust="spacingAndGlyphs" style="stroke-width:0.1px">pdC1INH</text>
<line x1="154" y1="285.9" x2="162" y2="285.9" stroke="#111" stroke-width="1"/>
<circle cx="158" cy="285.9" r="1.95" fill="#fff" stroke="#000" stroke-width="0.7"/>
<text x="165.9" y="288" font-size="6.2" fill="#1a1a1a" color="#1a1a1a" textLength="17.59" lengthAdjust="spacingAndGlyphs" style="stroke-width:0.1px">Vehicle</text>
<text x="206.3" y="191.9" font-size="12" fill="#000" color="#000" font-weight="bold">D</text>
<line x1="235.3" y1="209" x2="235.3" y2="288.8" stroke="#000" stroke-width="1.1"/>
<line x1="232.3" y1="288.2" x2="235.3" y2="288.2" stroke="#000" stroke-width="0.9"/>
<text x="229.5" y="290.5" font-size="6.4" fill="#1a1a1a" color="#1a1a1a" text-anchor="end" style="stroke-width:0.1px">0</text>
<line x1="232.3" y1="272.93" x2="235.3" y2="272.93" stroke="#000" stroke-width="0.9"/>
<text x="229.5" y="275.23" font-size="6.4" fill="#1a1a1a" color="#1a1a1a" text-anchor="end" style="stroke-width:0.1px">20</text>
<line x1="232.3" y1="257.66" x2="235.3" y2="257.66" stroke="#000" stroke-width="0.9"/>
<text x="229.5" y="259.96" font-size="6.4" fill="#1a1a1a" color="#1a1a1a" text-anchor="end" style="stroke-width:0.1px">40</text>
<line x1="232.3" y1="242.39" x2="235.3" y2="242.39" stroke="#000" stroke-width="0.9"/>
<text x="229.5" y="244.69" font-size="6.4" fill="#1a1a1a" color="#1a1a1a" text-anchor="end" style="stroke-width:0.1px">60</text>
<line x1="232.3" y1="227.12" x2="235.3" y2="227.12" stroke="#000" stroke-width="0.9"/>
<text x="229.5" y="229.42" font-size="6.4" fill="#1a1a1a" color="#1a1a1a" text-anchor="end" style="stroke-width:0.1px">80</text>
<line x1="232.3" y1="211.85" x2="235.3" y2="211.85" stroke="#000" stroke-width="0.9"/>
<text x="229.5" y="214.15" font-size="6.4" fill="#1a1a1a" color="#1a1a1a" text-anchor="end" style="stroke-width:0.1px">100</text>
<line x1="233.6" y1="280.56" x2="235.3" y2="280.56" stroke="#000" stroke-width="0.9"/>
<line x1="233.6" y1="265.3" x2="235.3" y2="265.3" stroke="#000" stroke-width="0.9"/>
<line x1="233.6" y1="250.02" x2="235.3" y2="250.02" stroke="#000" stroke-width="0.9"/>
<line x1="233.6" y1="234.75" x2="235.3" y2="234.75" stroke="#000" stroke-width="0.9"/>
<line x1="233.6" y1="219.49" x2="235.3" y2="219.49" stroke="#000" stroke-width="0.9"/>
<line x1="234.8" y1="288.2" x2="353.4" y2="288.2" stroke="#000" stroke-width="1.1"/>
<line x1="235.3" y1="288.2" x2="235.3" y2="290.8" stroke="#000" stroke-width="0.9"/>
<text x="235.3" y="300.1" font-size="6.5" fill="#1a1a1a" color="#1a1a1a" text-anchor="middle" textLength="3.43" lengthAdjust="spacingAndGlyphs" style="stroke-width:0.1px">0</text>
<line x1="273.9" y1="288.2" x2="273.9" y2="290.8" stroke="#000" stroke-width="0.9"/>
<text x="273.9" y="300.1" font-size="6.5" fill="#1a1a1a" color="#1a1a1a" text-anchor="middle" textLength="6.87" lengthAdjust="spacingAndGlyphs" style="stroke-width:0.1px">10</text>
<line x1="312.5" y1="288.2" x2="312.5" y2="290.8" stroke="#000" stroke-width="0.9"/>
<text x="312.5" y="300.1" font-size="6.5" fill="#1a1a1a" color="#1a1a1a" text-anchor="middle" textLength="6.87" lengthAdjust="spacingAndGlyphs" style="stroke-width:0.1px">20</text>
<line x1="351.1" y1="288.2" x2="351.1" y2="290.8" stroke="#000" stroke-width="0.9"/>
<text x="351.1" y="300.1" font-size="6.5" fill="#1a1a1a" color="#1a1a1a" text-anchor="middle" textLength="6.87" lengthAdjust="spacingAndGlyphs" style="stroke-width:0.1px">30</text>
<line x1="254.6" y1="288.2" x2="254.6" y2="289.8" stroke="#000" stroke-width="0.9"/>
<line x1="293.2" y1="288.2" x2="293.2" y2="289.8" stroke="#000" stroke-width="0.9"/>
<line x1="331.8" y1="288.2" x2="331.8" y2="289.8" stroke="#000" stroke-width="0.9"/>
<text x="294.8" y="204.4" font-size="9" fill="#161616" color="#161616" text-anchor="middle" textLength="73.5" lengthAdjust="spacingAndGlyphs">5 pM Tissue Factor</text>
<text x="294.8" y="311.8" font-size="8.2" fill="#1e1e1e" color="#1e1e1e" text-anchor="middle" textLength="33" lengthAdjust="spacingAndGlyphs">Time (min)</text>
<text x="214.5" y="248.4" font-size="8.8" fill="#1a1a1a" color="#1a1a1a" text-anchor="middle" transform="rotate(-90 214.5 248.4)" textLength="46" lengthAdjust="spacingAndGlyphs">Thrombin (nM)</text>
<path d="M235.3,287.82 C235.94,287.37 237.87,286.99 239.16,285.15 C240.45,283.3 241.73,281.07 243.02,276.75 C244.31,272.42 245.59,265.68 246.88,259.19 C248.17,252.7 249.45,244.04 250.74,237.81 C252.03,231.57 253.31,225.47 254.6,221.78 C255.89,218.09 257.11,216.24 258.46,215.67 C259.81,215.09 261.1,216.05 262.71,218.34 C264.31,220.63 266.12,225.02 268.11,229.41 C270.1,233.8 272.29,240.16 274.67,244.68 C277.05,249.2 279.37,252.32 282.39,256.51 C285.42,260.71 288.83,266.5 292.81,269.88 C296.8,273.25 302.85,275.16 306.32,276.75 C309.8,278.34 309.41,278.47 313.66,279.42 C317.9,280.37 325.56,281.81 331.8,282.47 C338.04,283.14 347.88,283.24 351.1,283.39" stroke="#d2d2d2" stroke-width="0.95" fill="none"/>
<path d="M235.3,287.89 C236.07,287.5 238.45,287.26 239.93,285.53 C241.41,283.8 242.83,281.65 244.18,277.51 C245.53,273.38 246.69,267.08 248.04,260.71 C249.39,254.35 250.87,245.44 252.28,239.34 C253.7,233.23 255.11,227.2 256.53,224.07 C257.95,220.94 259.23,220.62 260.78,220.55 C262.32,220.49 263.74,221.44 265.79,223.68 C267.85,225.92 270.62,230.24 273.13,233.99 C275.64,237.75 278.15,242.01 280.85,246.21 C283.55,250.41 286.45,255.37 289.34,259.19 C292.24,263 295.32,266.44 298.22,269.11 C301.11,271.78 304.14,273.63 306.71,275.22 C309.28,276.81 309.48,277.49 313.66,278.66 C317.84,279.83 325.56,281.47 331.8,282.24 C338.04,283.02 347.88,283.14 351.1,283.31" stroke="#f3c41c" stroke-width="0.95" fill="none"/>
<path d="M235.3,287.89 C236.07,287.54 238.45,287.36 239.93,285.76 C241.41,284.15 242.76,282.19 244.18,278.27 C245.59,274.36 247.01,268.48 248.42,262.24 C249.84,256.01 251.25,246.84 252.67,240.86 C254.09,234.88 255.5,229.35 256.92,226.36 C258.33,223.37 259.62,223.11 261.16,222.92 C262.71,222.73 264.19,223.24 266.18,225.21 C268.17,227.18 270.68,231.13 273.13,234.75 C275.57,238.38 278.15,242.77 280.85,246.97 C283.55,251.17 286.45,256.2 289.34,259.95 C292.24,263.7 295.32,266.89 298.22,269.49 C301.11,272.1 304.14,274.01 306.71,275.6 C309.28,277.19 309.48,277.88 313.66,279.04 C317.84,280.2 325.56,281.79 331.8,282.55 C338.04,283.31 347.88,283.44 351.1,283.62" stroke="#e8962a" stroke-width="0.95" fill="none"/>
<path d="M235.3,287.89 C236.01,287.44 238.2,287 239.55,285.15 C240.9,283.29 242.12,281.07 243.41,276.75 C244.69,272.42 245.92,265.68 247.27,259.19 C248.62,252.7 250.16,243.41 251.51,237.81 C252.86,232.21 254.09,228.14 255.37,225.59 C256.66,223.05 257.88,222.54 259.23,222.54 C260.58,222.54 261.68,223.05 263.48,225.59 C265.28,228.14 267.66,233.36 270.04,237.81 C272.42,242.26 274.87,247.73 277.76,252.32 C280.65,256.9 284.32,261.73 287.41,265.3 C290.5,268.86 293.39,271.53 296.29,273.69 C299.18,275.86 301.89,276.98 304.78,278.27 C307.68,279.57 309.15,280.56 313.66,281.48 C318.16,282.4 325.56,283.28 331.8,283.77 C338.04,284.27 347.88,284.34 351.1,284.46" stroke="#6b3f90" stroke-width="0.95" fill="none"/>
<path d="M235.3,287.82 C235.94,287.31 237.94,286.61 239.16,284.76 C240.38,282.92 241.48,281.01 242.63,276.75 C243.79,272.48 244.89,265.68 246.11,259.19 C247.33,252.7 248.62,244.17 249.97,237.81 C251.32,231.45 252.73,224.88 254.21,221.01 C255.69,217.14 257.37,215.17 258.85,214.6 C260.33,214.03 261.55,215.23 263.09,217.58 C264.64,219.92 266.18,224.26 268.11,228.65 C270.04,233.04 272.29,239.34 274.67,243.92 C277.05,248.5 279.37,251.81 282.39,256.13 C285.42,260.46 288.83,266.44 292.81,269.88 C296.8,273.31 302.85,275.09 306.32,276.75 C309.8,278.4 309.41,278.78 313.66,279.8 C317.9,280.82 325.56,282.19 331.8,282.86 C338.04,283.52 347.88,283.62 351.1,283.77" stroke="#3f7a62" stroke-width="0.95" fill="none"/>
<path d="M235.3,288.05 C236.07,287.97 238.13,288.28 239.93,287.59 C241.73,286.9 243.92,286.37 246.11,283.92 C248.3,281.48 250.74,277.31 253.06,272.93 C255.37,268.55 257.95,261.54 260,257.66 C262.06,253.78 263.41,251.42 265.41,249.64 C267.4,247.86 269.72,246.91 271.97,246.97 C274.22,247.03 276.92,248.5 278.92,250.02 C280.91,251.55 282.07,253.84 283.94,256.13 C285.8,258.42 287.86,261.48 290.11,263.77 C292.36,266.06 294.74,267.9 297.45,269.88 C300.15,271.85 303.62,274.08 306.32,275.6 C309.03,277.13 309.41,277.83 313.66,279.04 C317.9,280.25 325.56,281.96 331.8,282.86 C338.04,283.75 347.88,284.13 351.1,284.38" stroke="#b51d48" stroke-width="0.95" fill="none"/>
<line x1="319.3" y1="211.8" x2="327.5" y2="211.8" stroke="#d2d2d2" stroke-width="1.1"/>
<text x="330.6" y="213.9" font-size="6.2" fill="#1a1a1a" color="#1a1a1a" textLength="17.59" lengthAdjust="spacingAndGlyphs" style="stroke-width:0.1px">Vehicle</text>
<line x1="319.3" y1="220.65" x2="327.5" y2="220.65" stroke="#f3c41c" stroke-width="1.1"/>
<text x="330.6" y="222.75" font-size="6.2" fill="#1a1a1a" color="#1a1a1a" textLength="22.44" lengthAdjust="spacingAndGlyphs" style="stroke-width:0.1px">pdC1INH</text>
<line x1="319.3" y1="229.5" x2="327.5" y2="229.5" stroke="#3f7a62" stroke-width="1.1"/>
<text x="330.6" y="231.6" font-size="6.2" fill="#1a1a1a" color="#1a1a1a" textLength="8.48" lengthAdjust="spacingAndGlyphs" style="stroke-width:0.1px">WT</text>
<line x1="319.3" y1="238.35" x2="327.5" y2="238.35" stroke="#e8962a" stroke-width="1.1"/>
<text x="330.6" y="240.45" font-size="6.2" fill="#1a1a1a" color="#1a1a1a" textLength="20.61" lengthAdjust="spacingAndGlyphs" style="stroke-width:0.1px">SMTR/S</text>
<line x1="319.3" y1="247.2" x2="327.5" y2="247.2" stroke="#6b3f90" stroke-width="1.1"/>
<text x="330.6" y="249.3" font-size="6.2" fill="#1a1a1a" color="#1a1a1a" textLength="18.8" lengthAdjust="spacingAndGlyphs" style="stroke-width:0.1px">SLLR/S</text>
<line x1="319.3" y1="256.05" x2="327.5" y2="256.05" stroke="#b51d48" stroke-width="1.1"/>
<text x="331.8" y="258.15" font-size="6.2" fill="#1a1a1a" color="#1a1a1a" textLength="10.61" lengthAdjust="spacingAndGlyphs" style="stroke-width:0.1px">Pitts</text>
<text x="369.8" y="191.9" font-size="12" fill="#000" color="#000" font-weight="bold">E</text>
<path d="M508.6,289.6 C509.6,289.2 510.2,287.6 512.6,287.6" stroke="#111" stroke-width="0.9" fill="none"/>
<line x1="395.7" y1="209" x2="395.7" y2="288.9" stroke="#000" stroke-width="1.1"/>
<line x1="392.7" y1="288.3" x2="395.7" y2="288.3" stroke="#000" stroke-width="0.9"/>
<text x="389.9" y="290.6" font-size="6.4" fill="#1a1a1a" color="#1a1a1a" text-anchor="end" style="stroke-width:0.1px">0</text>
<line x1="392.7" y1="273.03" x2="395.7" y2="273.03" stroke="#000" stroke-width="0.9"/>
<text x="389.9" y="275.33" font-size="6.4" fill="#1a1a1a" color="#1a1a1a" text-anchor="end" style="stroke-width:0.1px">10</text>
<line x1="392.7" y1="257.76" x2="395.7" y2="257.76" stroke="#000" stroke-width="0.9"/>
<text x="389.9" y="260.06" font-size="6.4" fill="#1a1a1a" color="#1a1a1a" text-anchor="end" style="stroke-width:0.1px">20</text>
<line x1="392.7" y1="242.49" x2="395.7" y2="242.49" stroke="#000" stroke-width="0.9"/>
<text x="389.9" y="244.79" font-size="6.4" fill="#1a1a1a" color="#1a1a1a" text-anchor="end" style="stroke-width:0.1px">30</text>
<line x1="392.7" y1="227.22" x2="395.7" y2="227.22" stroke="#000" stroke-width="0.9"/>
<text x="389.9" y="229.52" font-size="6.4" fill="#1a1a1a" color="#1a1a1a" text-anchor="end" style="stroke-width:0.1px">40</text>
<line x1="392.7" y1="211.95" x2="395.7" y2="211.95" stroke="#000" stroke-width="0.9"/>
<text x="389.9" y="214.25" font-size="6.4" fill="#1a1a1a" color="#1a1a1a" text-anchor="end" style="stroke-width:0.1px">50</text>
<line x1="395.2" y1="288.3" x2="511" y2="288.3" stroke="#000" stroke-width="1.1"/>
<line x1="395.7" y1="288.3" x2="395.7" y2="290.9" stroke="#000" stroke-width="0.9"/>
<text x="395.7" y="300.2" font-size="6.5" fill="#1a1a1a" color="#1a1a1a" text-anchor="middle" textLength="3.43" lengthAdjust="spacingAndGlyphs" style="stroke-width:0.1px">0</text>
<line x1="421.1" y1="288.3" x2="421.1" y2="290.9" stroke="#000" stroke-width="0.9"/>
<text x="421.1" y="300.2" font-size="6.5" fill="#1a1a1a" color="#1a1a1a" text-anchor="middle" textLength="6.87" lengthAdjust="spacingAndGlyphs" style="stroke-width:0.1px">20</text>
<line x1="446.5" y1="288.3" x2="446.5" y2="290.9" stroke="#000" stroke-width="0.9"/>
<text x="446.5" y="300.2" font-size="6.5" fill="#1a1a1a" color="#1a1a1a" text-anchor="middle" textLength="6.87" lengthAdjust="spacingAndGlyphs" style="stroke-width:0.1px">40</text>
<line x1="471.9" y1="288.3" x2="471.9" y2="290.9" stroke="#000" stroke-width="0.9"/>
<text x="471.9" y="300.2" font-size="6.5" fill="#1a1a1a" color="#1a1a1a" text-anchor="middle" textLength="6.87" lengthAdjust="spacingAndGlyphs" style="stroke-width:0.1px">60</text>
<line x1="497.3" y1="288.3" x2="497.3" y2="290.9" stroke="#000" stroke-width="0.9"/>
<text x="497.3" y="300.2" font-size="6.5" fill="#1a1a1a" color="#1a1a1a" text-anchor="middle" textLength="6.87" lengthAdjust="spacingAndGlyphs" style="stroke-width:0.1px">80</text>
<line x1="408.4" y1="288.3" x2="408.4" y2="289.9" stroke="#000" stroke-width="0.9"/>
<line x1="433.8" y1="288.3" x2="433.8" y2="289.9" stroke="#000" stroke-width="0.9"/>
<line x1="459.2" y1="288.3" x2="459.2" y2="289.9" stroke="#000" stroke-width="0.9"/>
<line x1="484.6" y1="288.3" x2="484.6" y2="289.9" stroke="#000" stroke-width="0.9"/>
<line x1="510" y1="288.3" x2="510" y2="289.9" stroke="#000" stroke-width="0.9"/>
<text x="453.8" y="204.4" font-size="9" fill="#161616" color="#161616" text-anchor="middle" textLength="80.5" lengthAdjust="spacingAndGlyphs">0.5 pM Tissue Factor</text>
<text x="454.3" y="311.8" font-size="8.2" fill="#1e1e1e" color="#1e1e1e" text-anchor="middle" textLength="33" lengthAdjust="spacingAndGlyphs">Time (min)</text>
<text x="378.2" y="248.4" font-size="8.8" fill="#1a1a1a" color="#1a1a1a" text-anchor="middle" transform="rotate(-90 378.2 248.4)" textLength="46" lengthAdjust="spacingAndGlyphs">Thrombin (nM)</text>
<path d="M395.7,288.3 C396.23,288.17 397.82,288.63 398.88,287.54 C399.93,286.44 401.01,286.44 402.05,281.73 C403.09,277.03 403.96,266.59 405.1,259.29 C406.24,251.98 407.76,243.13 408.91,237.91 C410.05,232.69 411,230.02 411.96,227.98 C412.91,225.95 413.73,225.69 414.62,225.69 C415.51,225.69 416.32,226.46 417.29,227.98 C418.26,229.51 418.64,231.5 420.46,234.86 C422.29,238.21 425.65,243.56 428.21,248.14 C430.77,252.72 433.14,258.24 435.83,262.34 C438.52,266.44 441.65,269.93 444.34,272.72 C447.03,275.52 449.06,277.41 451.96,279.14 C454.86,280.87 458.42,282.17 461.74,283.11 C465.06,284.05 468.09,284.36 471.9,284.79 C475.71,285.22 480.37,285.48 484.6,285.7 C488.83,285.93 493.07,286.03 497.3,286.16 C501.53,286.29 507.88,286.42 510,286.47" stroke="#d2d2d2" stroke-width="0.95" fill="none"/>
<path d="M395.7,288.3 C396.23,288.2 397.82,288.58 398.88,287.69 C399.93,286.8 400.89,287.18 402.05,282.96 C403.21,278.73 404.59,269.34 405.86,262.34 C407.13,255.34 408.44,246.26 409.67,240.96 C410.9,235.67 412.1,232.67 413.23,230.58 C414.35,228.49 415.41,228.37 416.4,228.44 C417.4,228.52 418.2,229.59 419.19,231.04 C420.19,232.49 420.87,234.35 422.37,237.15 C423.87,239.95 425.97,243.89 428.21,247.83 C430.46,251.78 433.14,256.92 435.83,260.81 C438.52,264.71 441.65,268.45 444.34,271.2 C447.03,273.95 449.06,275.68 451.96,277.31 C454.86,278.93 458.42,279.9 461.74,280.97 C465.06,282.04 468.09,282.98 471.9,283.72 C475.71,284.46 480.37,285.02 484.6,285.4 C488.83,285.78 493.07,285.83 497.3,286.01 C501.53,286.19 507.88,286.39 510,286.47" stroke="#f3c41c" stroke-width="0.95" fill="none"/>
<path d="M395.7,288.3 C396.23,288.17 397.82,288.68 398.88,287.54 C399.93,286.39 401.01,286.37 402.05,281.43 C403.09,276.49 403.96,265.55 405.1,257.91 C406.24,250.28 407.76,240.99 408.91,235.62 C410.05,230.25 411.02,227.68 411.96,225.69 C412.89,223.71 413.61,223.53 414.5,223.71 C415.38,223.89 416.3,225.03 417.29,226.76 C418.28,228.49 418.64,230.53 420.46,234.09 C422.29,237.65 425.65,243.48 428.21,248.14 C430.77,252.8 433.14,258.01 435.83,262.04 C438.52,266.06 441.65,269.47 444.34,272.27 C447.03,275.07 449.06,277.05 451.96,278.83 C454.86,280.61 458.42,281.99 461.74,282.96 C465.06,283.92 468.09,284.18 471.9,284.64 C475.71,285.09 480.37,285.45 484.6,285.7 C488.83,285.96 493.07,286.03 497.3,286.16 C501.53,286.29 507.88,286.42 510,286.47" stroke="#3f7a62" stroke-width="0.95" fill="none"/>
<path d="M395.7,288.3 C396.44,288.17 398.47,288.81 400.14,287.54 C401.82,286.26 403.93,283.46 405.73,280.67 C407.53,277.87 409.01,273.74 410.94,270.74 C412.87,267.74 415.03,264.53 417.29,262.65 C419.55,260.76 422.2,259.82 424.53,259.44 C426.86,259.06 429.38,259.92 431.26,260.36 C433.14,260.79 433.65,261.2 435.83,262.04 C438.01,262.88 441.65,264.2 444.34,265.4 C447.03,266.59 449.06,267.69 451.96,269.21 C454.86,270.74 458.42,272.9 461.74,274.56 C465.06,276.21 468.03,277.76 471.9,279.14 C475.77,280.51 480.75,281.89 484.98,282.8 C489.21,283.72 493.13,284.08 497.3,284.64 C501.47,285.2 507.88,285.91 510,286.16" stroke="#e8962a" stroke-width="0.95" fill="none"/>
<path d="M395.7,288.3 C396.33,288.15 398.13,288.66 399.51,287.38 C400.89,286.11 402.33,283.82 403.95,280.67 C405.58,277.51 407.53,271.83 409.29,268.45 C411.05,265.06 412.34,262.19 414.5,260.36 C416.65,258.52 420.08,257.71 422.24,257.45 C424.4,257.2 425.19,258.07 427.45,258.83 C429.71,259.59 433.02,260.51 435.83,262.04 C438.65,263.56 441.65,266.16 444.34,267.99 C447.03,269.82 449.06,271.32 451.96,273.03 C454.86,274.74 458.42,276.82 461.74,278.22 C465.06,279.62 468.09,280.49 471.9,281.43 C475.71,282.37 480.37,283.24 484.6,283.87 C488.83,284.51 493.07,284.84 497.3,285.25 C501.53,285.65 507.88,286.14 510,286.31" stroke="#6b3f90" stroke-width="0.95" fill="none"/>
<path d="M395.7,287.99 C414.75,287.99 490.95,287.99 510,287.99" stroke="#b51d48" stroke-width="0.95" fill="none"/>
<line x1="478.8" y1="211.8" x2="487" y2="211.8" stroke="#d2d2d2" stroke-width="1.1"/>
<text x="490.1" y="213.9" font-size="6.2" fill="#1a1a1a" color="#1a1a1a" textLength="17.59" lengthAdjust="spacingAndGlyphs" style="stroke-width:0.1px">Vehicle</text>
<line x1="478.8" y1="220.65" x2="487" y2="220.65" stroke="#f3c41c" stroke-width="1.1"/>
<text x="490.1" y="222.75" font-size="6.2" fill="#1a1a1a" color="#1a1a1a" textLength="22.44" lengthAdjust="spacingAndGlyphs" style="stroke-width:0.1px">pdC1INH</text>
<line x1="478.8" y1="229.5" x2="487" y2="229.5" stroke="#3f7a62" stroke-width="1.1"/>
<text x="490.1" y="231.6" font-size="6.2" fill="#1a1a1a" color="#1a1a1a" textLength="8.48" lengthAdjust="spacingAndGlyphs" style="stroke-width:0.1px">WT</text>
<line x1="478.8" y1="238.35" x2="487" y2="238.35" stroke="#e8962a" stroke-width="1.1"/>
<text x="490.1" y="240.45" font-size="6.2" fill="#1a1a1a" color="#1a1a1a" textLength="20.61" lengthAdjust="spacingAndGlyphs" style="stroke-width:0.1px">SMTR/S</text>
<line x1="478.8" y1="247.2" x2="487" y2="247.2" stroke="#6b3f90" stroke-width="1.1"/>
<text x="490.1" y="249.3" font-size="6.2" fill="#1a1a1a" color="#1a1a1a" textLength="18.8" lengthAdjust="spacingAndGlyphs" style="stroke-width:0.1px">SLLR/S</text>
<line x1="478.8" y1="256.05" x2="487" y2="256.05" stroke="#b51d48" stroke-width="1.1"/>
<text x="491.3" y="258.15" font-size="6.2" fill="#1a1a1a" color="#1a1a1a" textLength="10.61" lengthAdjust="spacingAndGlyphs" style="stroke-width:0.1px">Pitts</text>
<text x="206.3" y="339.1" font-size="12" fill="#000" color="#000" font-weight="bold">G</text>
<text x="293" y="366.4" font-size="9" fill="#161616" color="#161616" text-anchor="middle" textLength="60" lengthAdjust="spacingAndGlyphs">APC Resistance</text>
<line x1="235.5" y1="371.5" x2="235.5" y2="444.3" stroke="#000" stroke-width="1.1"/>
<line x1="235.5" y1="447.8" x2="235.5" y2="451" stroke="#000" stroke-width="1.1"/>
<line x1="233.3" y1="445.4" x2="237.7" y2="443.2" stroke="#000" stroke-width="0.8"/>
<line x1="233.3" y1="448" x2="237.7" y2="445.8" stroke="#000" stroke-width="0.8"/>
<line x1="232.5" y1="374.1" x2="235.5" y2="374.1" stroke="#000" stroke-width="0.9"/>
<text x="229.7" y="376.4" font-size="6.4" fill="#1a1a1a" color="#1a1a1a" text-anchor="end" textLength="8.19" lengthAdjust="spacingAndGlyphs" style="stroke-width:0.1px">3.0</text>
<line x1="232.5" y1="399.8" x2="235.5" y2="399.8" stroke="#000" stroke-width="0.9"/>
<text x="229.7" y="402.1" font-size="6.4" fill="#1a1a1a" color="#1a1a1a" text-anchor="end" textLength="8.19" lengthAdjust="spacingAndGlyphs" style="stroke-width:0.1px">2.5</text>
<line x1="232.5" y1="425.5" x2="235.5" y2="425.5" stroke="#000" stroke-width="0.9"/>
<text x="229.7" y="427.8" font-size="6.4" fill="#1a1a1a" color="#1a1a1a" text-anchor="end" textLength="8.19" lengthAdjust="spacingAndGlyphs" style="stroke-width:0.1px">2.0</text>
<line x1="232.5" y1="450.4" x2="235.5" y2="450.4" stroke="#000" stroke-width="0.9"/>
<text x="229.7" y="452.7" font-size="6.4" fill="#1a1a1a" color="#1a1a1a" text-anchor="end" style="stroke-width:0.1px">0</text>
<line x1="235" y1="450.55" x2="350.7" y2="450.55" stroke="#333" stroke-width="1.6"/>
<line x1="247.6" y1="450.4" x2="247.6" y2="453" stroke="#000" stroke-width="0.9"/>
<line x1="265.7" y1="450.4" x2="265.7" y2="453" stroke="#000" stroke-width="0.9"/>
<line x1="283.7" y1="450.4" x2="283.7" y2="453" stroke="#000" stroke-width="0.9"/>
<line x1="301.8" y1="450.4" x2="301.8" y2="453" stroke="#000" stroke-width="0.9"/>
<line x1="319.9" y1="450.4" x2="319.9" y2="453" stroke="#000" stroke-width="0.9"/>
<line x1="338" y1="450.4" x2="338" y2="453" stroke="#000" stroke-width="0.9"/>
<text x="250.8" y="458.8" font-size="7.6" fill="#1a1a1a" color="#1a1a1a" text-anchor="end" transform="rotate(-45 250.8 458.8)" textLength="19.85" lengthAdjust="spacingAndGlyphs">Vehicle</text>
<text x="269.7" y="460.5" font-size="7.6" fill="#1a1a1a" color="#1a1a1a" text-anchor="end" transform="rotate(-45 269.7 460.5)" textLength="26.88" lengthAdjust="spacingAndGlyphs">pdC1INH</text>
<text x="287.9" y="459.8" font-size="7.6" fill="#1a1a1a" color="#1a1a1a" text-anchor="end" transform="rotate(-45 287.9 459.8)" textLength="10.16" lengthAdjust="spacingAndGlyphs">WT</text>
<text x="305.6" y="458.6" font-size="7.6" fill="#1a1a1a" color="#1a1a1a" text-anchor="end" transform="rotate(-45 305.6 458.6)" textLength="23.26" lengthAdjust="spacingAndGlyphs">SMTR/S</text>
<text x="323.7" y="458.5" font-size="7.6" fill="#1a1a1a" color="#1a1a1a" text-anchor="end" transform="rotate(-45 323.7 458.5)" textLength="20.95" lengthAdjust="spacingAndGlyphs">SLLR/S</text>
<text x="341.2" y="458.6" font-size="7.6" fill="#1a1a1a" color="#1a1a1a" text-anchor="end" transform="rotate(-45 341.2 458.6)" textLength="12.42" lengthAdjust="spacingAndGlyphs">Pitts</text>
<line x1="283.8" y1="480" x2="338.4" y2="480" stroke="#333" stroke-width="1"/>
<text x="311.1" y="488.8" font-size="7.4" fill="#1a1a1a" color="#1a1a1a" text-anchor="middle" textLength="15.92" lengthAdjust="spacingAndGlyphs">α1AT</text>
<text x="216" y="411.5" font-size="8.8" fill="#1a1a1a" color="#1a1a1a" text-anchor="middle" transform="rotate(-90 216 411.5)" textLength="59" lengthAdjust="spacingAndGlyphs">Clotting time (ratio)</text>
<line x1="242.4" y1="403.4" x2="252.8" y2="403.4" stroke="#111" stroke-width="1.2"/>
<line x1="247.6" y1="396.72" x2="247.6" y2="410.08" stroke="#111" stroke-width="0.9"/>
<line x1="245" y1="396.72" x2="250.2" y2="396.72" stroke="#111" stroke-width="0.9"/>
<line x1="245" y1="410.08" x2="250.2" y2="410.08" stroke="#111" stroke-width="0.9"/>
<path d="M244.5,390.2 L246.9,392.6 L244.5,395 L242.1,392.6 Z" fill="#fff" stroke="#000" stroke-width="0.7"/>
<path d="M250.4,396.37 L252.8,398.77 L250.4,401.17 L248,398.77 Z" fill="#fff" stroke="#000" stroke-width="0.7"/>
<path d="M251.1,400.48 L253.5,402.88 L251.1,405.28 L248.7,402.88 Z" fill="#fff" stroke="#000" stroke-width="0.7"/>
<path d="M244,402.54 L246.4,404.94 L244,407.34 L241.6,404.94 Z" fill="#fff" stroke="#000" stroke-width="0.7"/>
<path d="M251.8,401.51 L254.2,403.91 L251.8,406.31 L249.4,403.91 Z" fill="#fff" stroke="#000" stroke-width="0.7"/>
<path d="M246.9,406.14 L249.3,408.54 L246.9,410.94 L244.5,408.54 Z" fill="#fff" stroke="#000" stroke-width="0.7"/>
<path d="M249.7,406.14 L252.1,408.54 L249.7,410.94 L247.3,408.54 Z" fill="#fff" stroke="#000" stroke-width="0.7"/>
<line x1="260.5" y1="405.45" x2="270.9" y2="405.45" stroke="#111" stroke-width="1.2"/>
<line x1="265.7" y1="396.72" x2="265.7" y2="414.19" stroke="#111" stroke-width="0.9"/>
<line x1="263.1" y1="396.72" x2="268.3" y2="396.72" stroke="#111" stroke-width="0.9"/>
<line x1="263.1" y1="414.19" x2="268.3" y2="414.19" stroke="#111" stroke-width="0.9"/>
<rect x="264.1" y="390.9" width="3.4" height="3.4" fill="#f5c518" stroke="#000" stroke-width="0.6"/>
<rect x="261.3" y="398.61" width="3.4" height="3.4" fill="#f5c518" stroke="#000" stroke-width="0.6"/>
<rect x="267" y="400.16" width="3.4" height="3.4" fill="#f5c518" stroke="#000" stroke-width="0.6"/>
<rect x="260.6" y="408.38" width="3.4" height="3.4" fill="#f5c518" stroke="#000" stroke-width="0.6"/>
<rect x="267.7" y="410.95" width="3.4" height="3.4" fill="#f5c518" stroke="#000" stroke-width="0.6"/>
<rect x="264.1" y="414.03" width="3.4" height="3.4" fill="#f5c518" stroke="#000" stroke-width="0.6"/>
<line x1="278.5" y1="400.31" x2="288.9" y2="400.31" stroke="#111" stroke-width="1.2"/>
<line x1="283.7" y1="397.23" x2="283.7" y2="403.4" stroke="#111" stroke-width="0.9"/>
<line x1="281.1" y1="397.23" x2="286.3" y2="397.23" stroke="#111" stroke-width="0.9"/>
<line x1="281.1" y1="403.4" x2="286.3" y2="403.4" stroke="#111" stroke-width="0.9"/>
<circle cx="278.1" cy="395.17" r="1.65" fill="#2f6e50" stroke="#000" stroke-width="0.6"/>
<circle cx="289.3" cy="396.72" r="1.65" fill="#2f6e50" stroke="#000" stroke-width="0.6"/>
<circle cx="279.2" cy="401.34" r="1.65" fill="#2f6e50" stroke="#000" stroke-width="0.6"/>
<circle cx="286.2" cy="400.83" r="1.65" fill="#2f6e50" stroke="#000" stroke-width="0.6"/>
<circle cx="282.7" cy="404.43" r="1.65" fill="#2f6e50" stroke="#000" stroke-width="0.6"/>
<circle cx="284.7" cy="403.91" r="1.65" fill="#2f6e50" stroke="#000" stroke-width="0.6"/>
<line x1="296.6" y1="423.96" x2="307" y2="423.96" stroke="#111" stroke-width="1.2"/>
<line x1="301.8" y1="421.39" x2="301.8" y2="426.53" stroke="#111" stroke-width="0.9"/>
<line x1="299.2" y1="421.39" x2="304.4" y2="421.39" stroke="#111" stroke-width="0.9"/>
<line x1="299.2" y1="426.53" x2="304.4" y2="426.53" stroke="#111" stroke-width="0.9"/>
<circle cx="302" cy="419.33" r="1.65" fill="#e3921f" stroke="#000" stroke-width="0.6"/>
<circle cx="298.5" cy="422.42" r="1.65" fill="#e3921f" stroke="#000" stroke-width="0.6"/>
<circle cx="305.5" cy="422.42" r="1.65" fill="#e3921f" stroke="#000" stroke-width="0.6"/>
<circle cx="302" cy="424.47" r="1.65" fill="#e3921f" stroke="#000" stroke-width="0.6"/>
<circle cx="300.3" cy="426.01" r="1.65" fill="#e3921f" stroke="#000" stroke-width="0.6"/>
<circle cx="302" cy="428.07" r="1.65" fill="#e3921f" stroke="#000" stroke-width="0.6"/>
<line x1="314.7" y1="407.51" x2="325.1" y2="407.51" stroke="#111" stroke-width="1.2"/>
<line x1="319.9" y1="402.37" x2="319.9" y2="412.65" stroke="#111" stroke-width="0.9"/>
<line x1="317.3" y1="402.37" x2="322.5" y2="402.37" stroke="#111" stroke-width="0.9"/>
<line x1="317.3" y1="412.65" x2="322.5" y2="412.65" stroke="#111" stroke-width="0.9"/>
<circle cx="320.5" cy="397.74" r="1.65" fill="#55286f" stroke="#000" stroke-width="0.6"/>
<circle cx="316.7" cy="404.94" r="1.65" fill="#55286f" stroke="#000" stroke-width="0.6"/>
<circle cx="323.6" cy="405.45" r="1.65" fill="#55286f" stroke="#000" stroke-width="0.6"/>
<circle cx="316.7" cy="408.02" r="1.65" fill="#55286f" stroke="#000" stroke-width="0.6"/>
<circle cx="323.6" cy="411.11" r="1.65" fill="#55286f" stroke="#000" stroke-width="0.6"/>
<circle cx="320.5" cy="413.68" r="1.65" fill="#55286f" stroke="#000" stroke-width="0.6"/>
<line x1="332.8" y1="421.39" x2="343.2" y2="421.39" stroke="#111" stroke-width="1.2"/>
<line x1="338" y1="418.3" x2="338" y2="424.47" stroke="#111" stroke-width="0.9"/>
<line x1="335.4" y1="418.3" x2="340.6" y2="418.3" stroke="#111" stroke-width="0.9"/>
<line x1="335.4" y1="424.47" x2="340.6" y2="424.47" stroke="#111" stroke-width="0.9"/>
<circle cx="333" cy="418.82" r="1.65" fill="#a50032" stroke="#000" stroke-width="0.6"/>
<circle cx="344.3" cy="419.33" r="1.65" fill="#a50032" stroke="#000" stroke-width="0.6"/>
<circle cx="335.7" cy="421.39" r="1.65" fill="#a50032" stroke="#000" stroke-width="0.6"/>
<circle cx="340.1" cy="423.44" r="1.65" fill="#a50032" stroke="#000" stroke-width="0.6"/>
<circle cx="336.5" cy="425.5" r="1.65" fill="#a50032" stroke="#000" stroke-width="0.6"/>
<circle cx="340.1" cy="425.5" r="1.65" fill="#a50032" stroke="#000" stroke-width="0.6"/>
<text x="301.8" y="412.14" font-size="7" fill="#1a1a1a" color="#1a1a1a" text-anchor="middle" style="font-family:'Liberation Serif',serif;stroke-width:0.12px">§</text>
<text x="338" y="411.62" font-size="6.8" fill="#1a1a1a" color="#1a1a1a" text-anchor="middle" style="font-family:'Liberation Serif',serif;stroke-width:0.12px">†</text>
<rect x="0.6" y="0.6" width="518.8" height="496.8" fill="none" stroke="#000" stroke-width="1.4"/>
</g>
</svg></body></html>
